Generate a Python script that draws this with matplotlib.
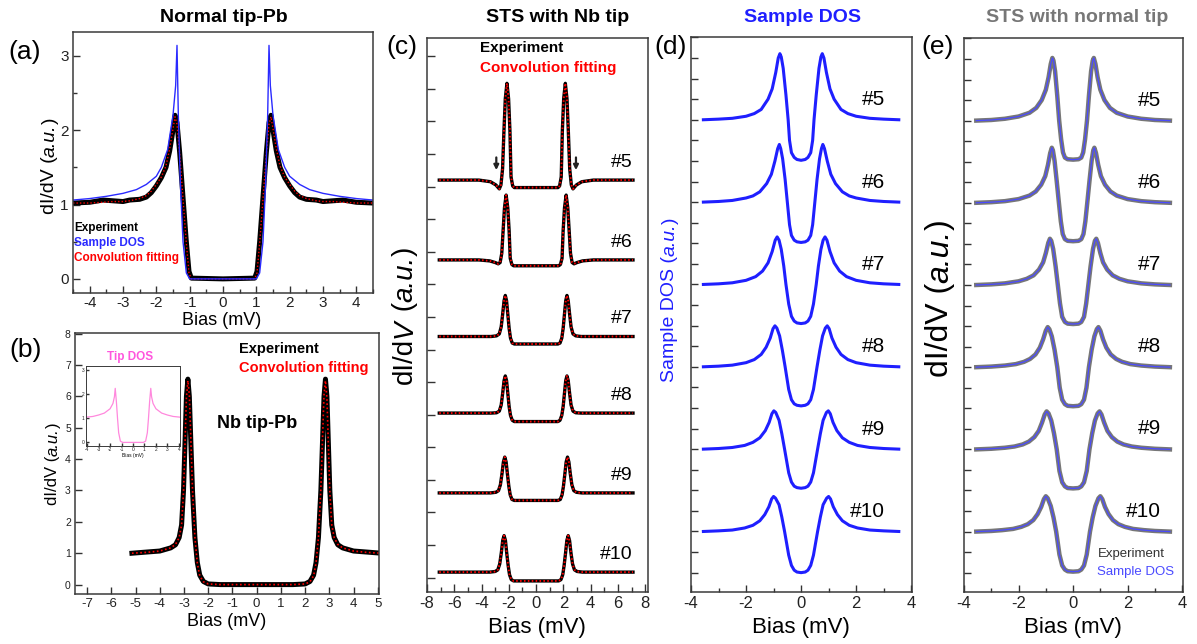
import numpy as np
import matplotlib.pyplot as plt
from matplotlib.ticker import MultipleLocator

plt.rcParams['font.family'] = ['Liberation Sans', 'DejaVu Sans']
plt.rcParams['axes.unicode_minus'] = False

W, H = 1197, 644

# ---- (a) normal tip - Pb (half curves, bias >= 0) ----
a_exp_x = [0, 0.95, 1.02, 1.1, 1.2, 1.3, 1.38, 1.44, 1.5, 1.6, 1.71, 1.85, 2.0, 2.15, 2.3, 2.5, 2.8, 3.0, 3.3, 3.6, 4.0, 4.5]
a_exp_y = [0.0, 0.01, 0.1, 0.5, 1.1, 1.7, 2.1, 2.2, 2.0, 1.72, 1.5, 1.36, 1.25, 1.16, 1.1, 1.07, 1.06, 1.04, 1.05, 1.06, 1.03, 1.02]
a_fit_y = [0.0, 0.0, 0.08, 0.48, 1.08, 1.68, 2.08, 2.18, 2.02, 1.75, 1.52, 1.37, 1.27, 1.18, 1.12, 1.08, 1.05, 1.04, 1.04, 1.03, 1.02, 1.02]
a_dos_x = [0, 1.0, 1.1, 1.2, 1.28, 1.34, 1.38, 1.42, 1.5, 1.66, 1.85, 2.0, 2.3, 2.6, 3.0, 3.5, 4.0, 4.5]
a_dos_y = [0.0, 0.0, 0.08, 0.5, 1.3, 2.2, 3.14, 2.6, 2.2, 1.74, 1.5, 1.38, 1.27, 1.2, 1.15, 1.11, 1.08, 1.06]

# ---- (b) Nb tip - Pb ----
b_x = [0, 1.5, 2.0, 2.2, 2.35, 2.45, 2.55, 2.65, 2.72, 2.78, 2.84, 2.9, 2.96, 3.02, 3.1, 3.2, 3.35, 3.55, 4.0, 4.5, 5.15]
b_exp_y = [0.0, 0.0, 0.02, 0.1, 0.3, 0.7, 1.5, 3.0, 4.6, 6.0, 6.55, 6.0, 4.5, 3.0, 1.9, 1.5, 1.27, 1.17, 1.07, 1.04, 1.0]
b_fit_y = [0.0, 0.0, 0.02, 0.09, 0.28, 0.68, 1.5, 3.05, 4.7, 6.05, 6.5, 5.95, 4.45, 2.95, 1.9, 1.5, 1.28, 1.17, 1.07, 1.03, 1.0]
tip_x = [0, 0.9, 1.1, 1.25, 1.35, 1.45, 1.55, 1.62, 1.75, 2.0, 2.5, 3.0, 3.5, 4.1]
tip_y = [0.0, 0.0, 0.05, 0.4, 1.0, 1.7, 2.25, 1.9, 1.62, 1.4, 1.22, 1.14, 1.08, 1.05]

# ---- (c) STS with Nb tip, spectra #5..#10 (relative to their baselines) ----
labels = ['#5', '#6', '#7', '#8', '#9', '#10']
c_off = [12.2, 9.75, 7.4, 5.05, 2.6, 0.17]
c5_x = [0, 1.6, 1.72, 1.84, 1.92, 2.02, 2.14, 2.26, 2.36, 2.46, 2.58, 2.7, 2.95, 3.35, 4.2, 7.1]
c5_y = [-0.23, -0.23, -0.18, 0.1, 1.5, 2.5, 2.97, 2.5, 1.5, 0.35, -0.15, -0.27, -0.15, -0.05, 0.0, 0.0]
c6_x = [0, 1.65, 1.78, 1.9, 1.98, 2.08, 2.2, 2.32, 2.42, 2.52, 2.64, 2.78, 3.0, 3.4, 4.2, 7.1]
c6_y = [-0.18, -0.18, -0.14, 0.05, 0.9, 1.6, 1.99, 1.6, 0.9, 0.2, -0.08, -0.12, -0.08, -0.03, 0.0, 0.0]
c7_x = [0, 1.6, 1.75, 1.88, 1.98, 2.08, 2.17, 2.26, 2.35, 2.45, 2.56, 2.7, 2.9, 3.3, 7.1]
c7_y = [-0.23, -0.23, -0.2, -0.05, 0.25, 0.7, 1.1, 1.26, 1.1, 0.7, 0.3, 0.08, 0.02, 0.0, 0.0]
c8_x = [0, 1.6, 1.75, 1.88, 1.98, 2.08, 2.17, 2.26, 2.35, 2.45, 2.56, 2.7, 2.9, 3.3, 7.1]
c8_y = [-0.26, -0.26, -0.22, -0.07, 0.2, 0.62, 1.0, 1.14, 1.0, 0.62, 0.25, 0.06, 0.01, 0.0, 0.0]
c9_x = [0, 1.6, 1.77, 1.9, 2.0, 2.11, 2.2, 2.3, 2.4, 2.5, 2.62, 2.76, 2.95, 3.35, 7.1]
c9_y = [-0.23, -0.23, -0.2, -0.06, 0.2, 0.6, 0.95, 1.1, 0.95, 0.6, 0.25, 0.07, 0.02, 0.0, 0.0]
c10_x = [0, 1.65, 1.82, 1.95, 2.05, 2.16, 2.25, 2.35, 2.45, 2.55, 2.67, 2.81, 3.0, 3.4, 7.1]
c10_y = [-0.27, -0.27, -0.23, -0.08, 0.2, 0.6, 0.97, 1.12, 0.97, 0.6, 0.25, 0.07, 0.02, 0.0, 0.0]

# ---- (d) sample DOS ----
d_off = [21, 17, 13, 9, 5, 1]
d5_x = [0, 0.15, 0.25, 0.35, 0.42, 0.47, 0.55, 0.65, 0.72, 0.77, 0.83, 0.92, 1.05, 1.2, 1.45, 1.7, 2.0, 2.5, 3.0, 3.55]
d5_y = [-1.97, -1.93, -1.83, -1.6, -1.0, 0.0, 1.2, 2.5, 3.05, 3.21, 3.0, 2.3, 1.5, 1.0, 0.5, 0.3, 0.17, 0.07, 0.03, 0.0]
d6_x = [0, 0.15, 0.25, 0.35, 0.42, 0.5, 0.58, 0.67, 0.74, 0.79, 0.85, 0.95, 1.08, 1.25, 1.5, 1.75, 2.0, 2.5, 3.0, 3.55]
d6_y = [-1.96, -1.93, -1.85, -1.62, -1.1, 0.0, 1.1, 2.1, 2.6, 2.8, 2.6, 2.0, 1.35, 0.9, 0.5, 0.3, 0.2, 0.08, 0.03, 0.0]
d7_x = [0, 0.15, 0.25, 0.35, 0.45, 0.55, 0.63, 0.72, 0.8, 0.87, 0.94, 1.05, 1.2, 1.4, 1.65, 2.0, 2.5, 3.0, 3.55]
d7_y = [-1.9, -1.87, -1.78, -1.55, -0.95, 0.0, 0.9, 1.7, 2.15, 2.31, 2.15, 1.6, 1.05, 0.65, 0.38, 0.2, 0.08, 0.03, 0.0]
d8_x = [0, 0.15, 0.25, 0.35, 0.45, 0.58, 0.68, 0.78, 0.88, 0.95, 1.02, 1.12, 1.27, 1.45, 1.7, 2.0, 2.5, 3.0, 3.55]
d8_y = [-1.9, -1.87, -1.8, -1.6, -1.1, 0.0, 0.8, 1.5, 1.88, 1.99, 1.85, 1.4, 0.95, 0.6, 0.35, 0.2, 0.08, 0.03, 0.0]
d9_x = [0, 0.15, 0.25, 0.35, 0.45, 0.6, 0.7, 0.8, 0.92, 0.99, 1.06, 1.16, 1.3, 1.5, 1.75, 2.05, 2.5, 3.0, 3.55]
d9_y = [-1.9, -1.87, -1.8, -1.6, -1.15, 0.0, 0.75, 1.4, 1.78, 1.86, 1.72, 1.3, 0.9, 0.55, 0.33, 0.18, 0.08, 0.03, 0.0]
d10_x = [0, 0.15, 0.25, 0.35, 0.45, 0.6, 0.7, 0.8, 0.93, 1.0, 1.07, 1.17, 1.32, 1.5, 1.75, 2.05, 2.5, 3.0, 3.55]
d10_y = [-2.0, -1.97, -1.88, -1.65, -1.15, 0.0, 0.7, 1.3, 1.62, 1.7, 1.58, 1.2, 0.82, 0.52, 0.3, 0.17, 0.07, 0.03, 0.0]

# ---- (e) STS with normal tip ----
e5_x = [0, 0.2, 0.3, 0.37, 0.44, 0.51, 0.58, 0.66, 0.72, 0.76, 0.82, 0.9, 1.0, 1.15, 1.35, 1.6, 2.0, 2.5, 3.0, 3.55]
e5_y = [-1.9, -1.88, -1.8, -1.55, -0.9, 0.0, 1.2, 2.4, 2.92, 3.05, 2.75, 2.1, 1.5, 1.0, 0.62, 0.38, 0.2, 0.09, 0.03, 0.0]
e6_x = [0, 0.2, 0.3, 0.38, 0.45, 0.52, 0.6, 0.68, 0.74, 0.78, 0.84, 0.92, 1.02, 1.17, 1.37, 1.6, 2.0, 2.5, 3.0, 3.55]
e6_y = [-1.87, -1.85, -1.77, -1.52, -0.9, 0.0, 1.05, 2.05, 2.55, 2.68, 2.42, 1.85, 1.3, 0.88, 0.55, 0.35, 0.18, 0.08, 0.03, 0.0]
e7_x = [0, 0.2, 0.3, 0.4, 0.48, 0.56, 0.64, 0.73, 0.8, 0.85, 0.91, 1.0, 1.1, 1.25, 1.45, 1.7, 2.0, 2.5, 3.0, 3.55]
e7_y = [-1.9, -1.88, -1.8, -1.55, -0.9, 0.0, 0.9, 1.75, 2.15, 2.25, 2.05, 1.55, 1.1, 0.75, 0.47, 0.3, 0.18, 0.08, 0.03, 0.0]
e8_x = [0, 0.2, 0.3, 0.4, 0.49, 0.58, 0.68, 0.78, 0.87, 0.93, 1.0, 1.1, 1.22, 1.38, 1.58, 1.8, 2.1, 2.5, 3.0, 3.55]
e8_y = [-1.9, -1.88, -1.8, -1.58, -1.0, 0.0, 0.85, 1.5, 1.85, 1.95, 1.78, 1.35, 0.95, 0.62, 0.4, 0.26, 0.15, 0.08, 0.03, 0.0]
e9_x = [0, 0.2, 0.3, 0.4, 0.5, 0.6, 0.7, 0.8, 0.9, 0.97, 1.04, 1.14, 1.26, 1.42, 1.62, 1.85, 2.15, 2.5, 3.0, 3.55]
e9_y = [-1.9, -1.88, -1.8, -1.6, -1.05, 0.0, 0.78, 1.4, 1.75, 1.85, 1.7, 1.3, 0.9, 0.6, 0.38, 0.24, 0.14, 0.08, 0.03, 0.0]
e10_x = [0, 0.2, 0.3, 0.4, 0.5, 0.62, 0.72, 0.82, 0.93, 1.0, 1.07, 1.17, 1.3, 1.46, 1.66, 1.9, 2.2, 2.6, 3.0, 3.55]
e10_y = [-1.95, -1.93, -1.85, -1.65, -1.12, 0.0, 0.7, 1.25, 1.62, 1.72, 1.58, 1.2, 0.85, 0.56, 0.36, 0.23, 0.13, 0.07, 0.03, 0.0]

c_curves = [(c5_x, c5_y), (c6_x, c6_y), (c7_x, c7_y), (c8_x, c8_y), (c9_x, c9_y), (c10_x, c10_y)]
d_curves = [(d5_x, d5_y), (d6_x, d6_y), (d7_x, d7_y), (d8_x, d8_y), (d9_x, d9_y), (d10_x, d10_y)]
e_curves = [(e5_x, e5_y), (e6_x, e6_y), (e7_x, e7_y), (e8_x, e8_y), (e9_x, e9_y), (e10_x, e10_y)]


def mirror(xh, yh):
    xh = np.asarray(xh, float)
    yh = np.asarray(yh, float)
    return np.concatenate([-xh[::-1], xh[1:]]), np.concatenate([yh[::-1], yh[1:]])


fig = plt.figure(figsize=(W / 100, H / 100), dpi=100)


def px_axes(l, t, r, b):
    return fig.add_axes([l / W, 1 - b / H, (r - l) / W, (b - t) / H])


def px_text(x, y, s, **kw):
    kw.setdefault('ha', 'center')
    kw.setdefault('va', 'center')
    return fig.text(x / W, 1 - y / H, s, **kw)


def vlabel(x, yc, pieces, fontsize, color='black'):
    # vertical label built from upright / italic pieces, centred on (x, yc)
    texts = [fig.text(x / W, 1 - yc / H, s, fontsize=fontsize, color=color,
                      style=st, rotation=90, rotation_mode='anchor',
                      ha='left', va='center') for s, st in pieces]
    r = fig.canvas.get_renderer()
    lens = [t.get_window_extent(r).height for t in texts]
    y = (H - yc) - sum(lens) / 2
    for t, L in zip(texts, lens):
        t.set_position((x / W, y / H))
        y += L


def frame(ax, xmaj, xmin, ymaj, ymin=None, ylab=True, xfs=11, yfs=11, tl=5):
    ax.xaxis.set_major_locator(MultipleLocator(xmaj))
    if xmin:
        ax.xaxis.set_minor_locator(MultipleLocator(xmin))
    ax.yaxis.set_major_locator(MultipleLocator(ymaj))
    if ymin:
        ax.yaxis.set_minor_locator(MultipleLocator(ymin))
    ax.tick_params(which='both', direction='in', top=False, right=False,
                   color='#333333', labelcolor='#222222', width=1)
    ax.tick_params(which='major', length=tl)
    ax.tick_params(which='minor', length=tl * 0.6)
    ax.tick_params(axis='x', labelsize=xfs, pad=3)
    ax.tick_params(axis='y', labelsize=yfs, pad=3, labelleft=ylab)
    for sp in ax.spines.values():
        sp.set_color('#3a3a3a')
        sp.set_linewidth(1.1)


# (a)
ax = px_axes(73, 32, 373, 293)
X, Y = mirror(a_exp_x, a_exp_y)
ax.plot(X, Y, color='black', lw=3.6, solid_joinstyle='round')
X, Y = mirror(a_exp_x, a_fit_y)
ax.plot(X, Y, color='red', lw=1.0, ls=(0, (1, 1.5)))
X, Y = mirror(a_dos_x, a_dos_y)
ax.plot(X, Y, color='#2a2aff', lw=1.0)
ax.set_xlim(-4.5, 4.5)
ax.set_ylim(-0.19, 3.32)
frame(ax, 1, 0.5, 1, 0.5, xfs=11, yfs=11)
ax.tick_params(axis='x', pad=2)
px_text(74, 228, 'Experiment', ha='left', fontsize=8.5, fontweight='bold', color='black')
px_text(74, 243, 'Sample DOS', ha='left', fontsize=8.5, fontweight='bold', color='#2a2aff')
px_text(74, 258, 'Convolution fitting', ha='left', fontsize=8.5, fontweight='bold', color='red')

# (b)
ax = px_axes(75, 333, 379, 594)
X, Y = mirror(b_x, b_exp_y)
ax.plot(X, Y, color='black', lw=3.6, solid_joinstyle='round')
X, Y = mirror(b_x, b_fit_y)
ax.plot(X, Y, color='red', lw=1.2, ls=(0, (1, 1.5)))
ax.set_xlim(-7.5, 5.05)
ax.set_ylim(-0.3, 8.02)
frame(ax, 1, None, 1, None, xfs=9.5, yfs=7.5)
px_text(239, 349, 'Experiment', ha='left', fontsize=10.5, fontweight='bold', color='black')
px_text(239, 368, 'Convolution fitting', ha='left', fontsize=10.5, fontweight='bold', color='red')
px_text(257, 423, 'Nb tip-Pb', fontsize=13, fontweight='bold', color='black')
px_text(130, 357, 'Tip DOS', fontsize=8.5, fontweight='bold', color='#ff55dd')

axi = px_axes(86, 366, 180, 446)
X, Y = mirror(tip_x, tip_y)
axi.plot(X, Y, color='#ff88dd', lw=0.9)
axi.set_xlim(-4.1, 4.1)
axi.set_ylim(-0.15, 3.18)
frame(axi, 1, None, 1, None, xfs=3.5, yfs=3.5, tl=2)
axi.tick_params(pad=1)
for sp in axi.spines.values():
    sp.set_linewidth(0.7)
axi.set_xlabel('Bias (mV)', fontsize=3.5, labelpad=0.5)

# (c)
ax = px_axes(427, 38, 648, 592)
for (xh, yh), off in zip(c_curves, c_off):
    X, Y = mirror(xh, yh)
    ax.plot(X, Y + off, color='black', lw=2.4, solid_joinstyle='round')
    ax.plot(X, Y + off, color='red', lw=1.4, ls=(0, (0.8, 1.2)))
for lab, off in zip(labels, c_off):
    ax.text(7.1, off + 0.55, lab, ha='right', va='center', fontsize=14)
for xa in (-2.92, 2.92):
    ax.annotate('', xy=(xa, 12.42), xytext=(xa, 12.98),
                arrowprops=dict(arrowstyle='-|>', color='#222222', lw=1.6, mutation_scale=7))
ax.set_xlim(-8, 8.2)
ax.set_ylim(-0.44, 16.56)
frame(ax, 2, 1, 1, None, ylab=False, xfs=12, tl=6)
px_text(480, 48, 'Experiment', ha='left', fontsize=11, fontweight='bold', color='black')
px_text(480, 68, 'Convolution fitting', ha='left', fontsize=11, fontweight='bold', color='red')

# (d)
ax = px_axes(691, 37, 912, 592)
for (xh, yh), off in zip(d_curves, d_off):
    X, Y = mirror(xh, yh)
    ax.plot(X, Y + off, color='#1f1fff', lw=2.2, solid_joinstyle='round')
for lab, off in zip(labels, d_off):
    ax.text(3.05, off + 0.97, lab, ha='right', va='center', fontsize=15)
ax.set_xlim(-4, 4.03)
ax.set_ylim(-1.94, 25.02)
frame(ax, 2, 1, 1, None, ylab=False, xfs=12, tl=5)

# (e)
ax = px_axes(964, 38, 1183, 592)
for (xh, yh), off in zip(e_curves, d_off):
    X, Y = mirror(xh, yh)
    ax.plot(X, Y + off, color='#777777', lw=3.2, solid_joinstyle='round')
    ax.plot(X, Y + off, color='#4a4aff', lw=0.9)
for lab, off in zip(labels, d_off):
    ax.text(3.22, off + 1.0, lab, ha='right', va='center', fontsize=15)
ax.set_xlim(-4, 4.03)
ax.set_ylim(-1.94, 25.02)
frame(ax, 2, 1, 1, None, ylab=False, xfs=12, tl=5)
px_text(1098, 554, 'Experiment', ha='left', fontsize=9.5, color='#333333')
px_text(1097, 572, 'Sample DOS', ha='left', fontsize=9.5, color='#4a4aff')

# titles, panel letters, axis labels
px_text(224, 18, 'Normal tip-Pb', fontsize=14, fontweight='bold', color='black')
px_text(558, 18, 'STS with Nb tip', fontsize=14, fontweight='bold', color='black')
px_text(802, 18, 'Sample DOS', fontsize=14, fontweight='bold', color='#1f1fff')
px_text(1077, 18, 'STS with normal tip', fontsize=14, fontweight='bold', color='#777777')

for s, x, y in [('(a)', 25, 52), ('(b)', 26, 350), ('(c)', 402, 47), ('(d)', 671, 47), ('(e)', 938, 47)]:
    px_text(x, y, s, fontsize=19)

vlabel(50, 166, [('dI/dV (', 'normal'), ('a.u.', 'italic'), (')', 'normal')], 14)
vlabel(53, 464, [('dI/dV (', 'normal'), ('a.u.', 'italic'), (')', 'normal')], 12)
vlabel(405, 315, [('dI/d', 'normal'), ('V', 'italic'), (' (', 'normal'), ('a.u.', 'italic'), (')', 'normal')], 20)
vlabel(670, 300, [('Sample DOS (', 'normal'), ('a.u.', 'italic'), (')', 'normal')], 14, color='#1f1fff')
vlabel(940, 298, [('dI/dV (', 'normal'), ('a.u.', 'italic'), (')', 'normal')], 23)

px_text(222, 320, 'Bias (mV)', fontsize=13)
px_text(227, 622, 'Bias (mV)', fontsize=13)
px_text(537, 628, 'Bias (mV)', fontsize=16)
px_text(801, 628, 'Bias (mV)', fontsize=16)
px_text(1073, 628, 'Bias (mV)', fontsize=16)

fig.savefig('out.png', dpi=100)
